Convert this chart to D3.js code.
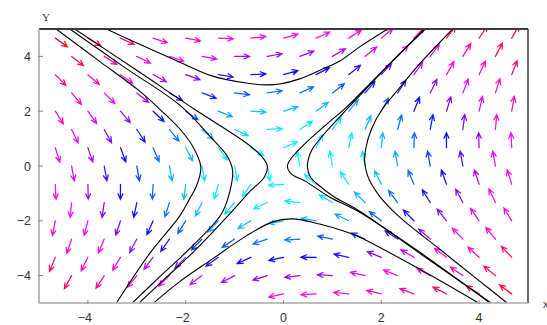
<!DOCTYPE html>
<html>
<head>
<meta charset="utf-8">
<script src="https://cdn.jsdelivr.net/npm/d3@7"></script>
<style>
  html, body { margin: 0; padding: 0; background: #fff; }
  svg { display: block; }
  .tick-label { font-family: "Liberation Sans", Arial, sans-serif; font-size: 12.5px; fill: #333; }
</style>
</head>
<body>
<svg id="chart" width="547" height="325"></svg>
<script>
// ---- data ----
const xTicks = [-4, -2, 0, 2, 4];
const yTicks = [-4, -2, 0, 2, 4];

// arrow grid: row y values, first x of each row and number of arrows (step 2/3)
const rowY     = [4.667, 4, 3.333, 2.667, 2, 1.333, 0.667, 0, -0.667, -1.333, -2, -2.667, -3.333, -4, -4.667];
const rowStart = [-4.667, -4.333, -4.667, -4.333, -4.667, -4.333, -4.667, -4.333, -4.667, -4.333, -4.667, -4.333, -4.667, -4.333, 0];
const rowCount = [15, 14, 15, 14, 15, 14, 15, 14, 15, 14, 15, 14, 15, 14, 8];
const gridStep = 0.6667;

// linear field fitted to the arrow directions: v = M (p - c)
const fieldMatrix = [[-0.2, 1], [2, 0.44]];
const saddle = [-0.1, 0];

// colour of an arrow against its distance from the origin
const colorRadius = [0, 1.5, 2.3, 2.9, 3.4, 4.0, 4.4, 4.7, 5.2, 5.8, 6.6];
const colorHue    = [182, 186, 200, 222, 242, 274, 292, 304, 315, 336, 350];

// streamlines, points in data units
const streamA = [[-4.65,5.0],[-3.76,3.82],[-2.94,2.73],[-2.53,2.07],[-2.12,1.35],[-1.86,0.73],[-1.69,-0.04],[-1.78,-0.73],[-1.92,-1.2],[-2.12,-1.82],[-2.74,-3.2],[-3.41,-4.98]];
const streamB = [[-4.37,5.0],[-3.25,3.6],[-2.12,2.22],[-1.45,0.98],[-1.14,0.33],[-1.04,-0.18],[-1.1,-0.95],[-1.27,-1.75],[-1.92,-3.02],[-2.53,-4.04],[-3.08,-4.98]];
const streamC = [[-4.27,5.0],[-2.94,3.42],[-1.82,2.07],[-0.76,0.84],[-0.45,0.36],[-0.33,0],[-0.39,-0.4],[-0.7,-0.95],[-1.1,-1.75],[-1.82,-3.1],[-2.43,-4.12],[-2.94,-4.98]];
const streamD = [[2.88,5.0],[2.37,4.09],[1.76,2.99],[1.29,2.15],[0.84,1.46],[0.43,0.8],[0.18,0.33],[0.08,0],[0.16,-0.29],[0.47,-0.58],[0.94,-1.13],[1.55,-1.68],[2.78,-3.14],[4.21,-4.98]];
const streamE = [[2.9,5.0],[2.17,3.72],[1.55,2.55],[1.15,1.79],[0.78,1.06],[0.59,0.62],[0.51,0.26],[0.49,-0.04],[0.55,-0.4],[0.74,-0.73],[1.04,-1.13],[1.55,-1.64],[2.78,-3.18],[4.23,-4.98]];
const streamI = [[3.46,5.0],[2.78,3.72],[2.27,2.63],[2.02,2.08],[1.8,1.35],[1.68,0.62],[1.66,0.18],[1.72,-0.36],[1.96,-1.09],[2.37,-1.86],[3.19,-3.03],[4.01,-4.2],[4.56,-4.98]];
const streamTop = [[-3.62,5.0],[-3.09,4.56],[-2.13,3.8],[-1.45,3.28],[-0.76,3.03],[-0.35,2.96],[-0.08,2.99],[0.33,3.18],[0.8,3.54],[1.15,3.83],[1.55,4.34],[2.13,5.0]];
const streamBottom = [[-2.64,-4.98],[-2.13,-4.23],[-1.45,-3.39],[-0.76,-2.55],[-0.22,-2.04],[0.18,-1.93],[0.74,-2.12],[1.29,-2.41],[1.55,-2.59],[2.78,-3.76],[3.97,-4.98]];
const streams = [streamA, streamB, streamC, streamD, streamE, streamI, streamTop, streamBottom];

// ---- drawing ----
const svg = d3.select('#chart');
const plotLeft = 39, plotRight = 528, plotTop = 29, plotBottom = 303;

const x = d3.scaleLinear().domain([-5, 5]).range([plotLeft, plotRight]);
const y = d3.scaleLinear().domain([-5, 5]).range([plotBottom, plotTop]);
const hue = d3.scaleLinear().domain(colorRadius).range(colorHue).clamp(true);

svg.append('clipPath').attr('id', 'plotClip')
  .append('rect')
  .attr('x', plotLeft).attr('y', plotTop)
  .attr('width', plotRight - plotLeft).attr('height', plotBottom - plotTop);

const plot = svg.append('g').attr('clip-path', 'url(#plotClip)');

// arrows
let arrows = [];
rowY.forEach(function (yy, k) {
  for (let j = 0; j < rowCount[k]; j++) {
    arrows.push([rowStart[k] + j * gridStep, yy]);
  }
});

const arrowLen = 15, headLen = 6, headAng = 0.42;
const pxX = x(1) - x(0), pxY = y(0) - y(1);

function arrowPath(p) {
  let dx = p[0] - saddle[0], dy = p[1] - saddle[1];
  let fx = fieldMatrix[0][0] * dx + fieldMatrix[0][1] * dy;
  let fy = fieldMatrix[1][0] * dx + fieldMatrix[1][1] * dy;
  let sx = fx * pxX, sy = -fy * pxY;
  let n = Math.sqrt(sx * sx + sy * sy) || 1;
  let ux = sx / n, uy = sy / n;
  let x0 = x(p[0]), y0 = y(p[1]);
  let x1 = x0 + ux * arrowLen, y1 = y0 + uy * arrowLen;
  let a = Math.atan2(uy, ux);
  let hx1 = x1 - headLen * Math.cos(a - headAng), hy1 = y1 - headLen * Math.sin(a - headAng);
  let hx2 = x1 - headLen * Math.cos(a + headAng), hy2 = y1 - headLen * Math.sin(a + headAng);
  return 'M' + x0 + ',' + y0 + 'L' + x1 + ',' + y1 +
         'M' + hx1 + ',' + hy1 + 'L' + x1 + ',' + y1 + 'L' + hx2 + ',' + hy2;
}

plot.selectAll('path.arrow')
  .data(arrows)
  .enter().append('path')
  .attr('class', 'arrow')
  .attr('d', arrowPath)
  .attr('fill', 'none')
  .attr('stroke-width', 1.25)
  .attr('stroke-linecap', 'round')
  .attr('stroke', function (p) {
    let r = Math.sqrt(p[0] * p[0] + p[1] * p[1]);
    return d3.hsl(hue(r), 1, 0.52).toString();
  });

// streamlines
const line = d3.line()
  .x(function (d) { return x(d[0]); })
  .y(function (d) { return y(d[1]); })
  .curve(d3.curveCatmullRom.alpha(0.5));

plot.selectAll('path.stream')
  .data(streams)
  .enter().append('path')
  .attr('class', 'stream')
  .attr('d', line)
  .attr('fill', 'none')
  .attr('stroke', '#000')
  .attr('stroke-width', 1.1);

// frame
svg.append('line').attr('x1', plotLeft).attr('x2', plotRight).attr('y1', plotTop).attr('y2', plotTop)
  .attr('stroke', '#3a3a3a').attr('stroke-width', 1.8);
svg.append('line').attr('x1', plotRight).attr('x2', plotRight).attr('y1', plotTop).attr('y2', plotBottom)
  .attr('stroke', '#3a3a3a').attr('stroke-width', 1.5);
svg.append('line').attr('x1', plotLeft).attr('x2', plotRight).attr('y1', plotBottom).attr('y2', plotBottom)
  .attr('stroke', '#a8a8a8').attr('stroke-width', 1.6);
svg.append('line').attr('x1', plotLeft).attr('x2', plotLeft).attr('y1', plotTop).attr('y2', plotBottom)
  .attr('stroke', '#a8a8a8').attr('stroke-width', 1.6);

// ticks and labels
svg.selectAll('line.xtick').data(xTicks).enter().append('line')
  .attr('x1', function (d) { return x(d); }).attr('x2', function (d) { return x(d); })
  .attr('y1', plotBottom + 1).attr('y2', plotBottom - 3)
  .attr('stroke', '#888').attr('stroke-width', 1);
svg.selectAll('line.ytick').data(yTicks).enter().append('line')
  .attr('x1', plotLeft - 1).attr('x2', plotLeft + 4)
  .attr('y1', function (d) { return y(d); }).attr('y2', function (d) { return y(d); })
  .attr('stroke', '#888').attr('stroke-width', 1);

const fmt = function (d) { return d < 0 ? '\u2212' + Math.abs(d) : String(d); };

svg.selectAll('text.xl').data(xTicks).enter().append('text')
  .attr('class', 'tick-label')
  .attr('x', function (d) { return x(d) - (d < 0 ? 3 : 0); })
  .attr('y', plotBottom + 19)
  .attr('text-anchor', 'middle')
  .text(fmt);
svg.selectAll('text.yl').data(yTicks).enter().append('text')
  .attr('class', 'tick-label')
  .attr('x', 31)
  .attr('y', function (d) { return y(d) + 4.5; })
  .attr('text-anchor', 'end')
  .text(fmt);

svg.append('text').attr('x', 46).attr('y', 21)
  .attr('text-anchor', 'middle')
  .style('font-family', '"Liberation Serif", serif').style('font-size', '11px').style('fill', '#333')
  .text('Y');
svg.append('text').attr('x', 543).attr('y', 308)
  .style('font-family', '"Liberation Sans", sans-serif').style('font-size', '11px').style('fill', '#333')
  .text('x');
</script>
</body>
</html>
